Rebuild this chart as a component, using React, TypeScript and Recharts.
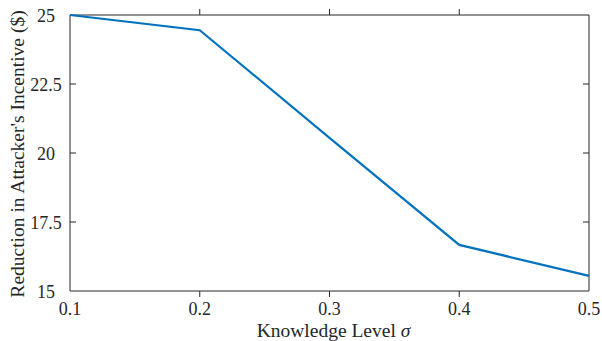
import React from "react";
import {
	Line,
	LineChart,
	XAxis,
	YAxis,
	Label,
	ReferenceArea,
	ReferenceLine,
} from "recharts";

// knowledge level sigma vs reduction in attacker's incentive
const sigma = [0.1, 0.2, 0.3, 0.4, 0.5];
const reduction = [25, 24.45, 20.55, 16.67, 15.55];
const xTicks = [0.1, 0.2, 0.3, 0.4, 0.5];
const yTicks = [15, 17.5, 20, 22.5, 25];

const data = sigma.map((s, i) => ({ s, v: reduction[i] }));

const FONT = "'Liberation Serif', 'Times New Roman', serif";
const AXIS = "#262626";
const TEXT = "#262626";
const TICK_LEN = 6;

const BottomTick = (p: any) => (
	<text
		x={p.x}
		y={p.y + 18}
		textAnchor="middle"
		dominantBaseline="central"
		fontFamily={FONT}
		fontSize={18}
		fill={TEXT}
	>
		{p.payload.value}
	</text>
);

const LeftTick = (p: any) => (
	<text
		x={p.x - 24}
		y={p.y + 1}
		textAnchor="middle"
		dominantBaseline="central"
		fontFamily={FONT}
		fontSize={18}
		fill={TEXT}
	>
		{p.payload.value}
	</text>
);

// inward tick marks at both ends of a reference line (matlab box style)
const VTicks = (p: any) => (
	<g>
		<line x1={p.x1} y1={p.y1} x2={p.x1} y2={p.y1 + TICK_LEN} stroke={AXIS} />
		<line x1={p.x2} y1={p.y2} x2={p.x2} y2={p.y2 - TICK_LEN} stroke={AXIS} />
	</g>
);

const HTicks = (p: any) => (
	<g>
		<line x1={p.x1} y1={p.y1} x2={p.x1 + TICK_LEN} y2={p.y1} stroke={AXIS} />
		<line x1={p.x2} y1={p.y2} x2={p.x2 - TICK_LEN} y2={p.y2} stroke={AXIS} />
	</g>
);

export default function App() {
	return (
		<div style={{ position: "absolute", left: 0, top: 0, background: "#fff" }}>
			<LineChart
				width={602}
				height={341}
				data={data}
				margin={{ top: 15, right: 13, bottom: 0, left: 0 }}
			>
				<XAxis
					dataKey="s"
					type="number"
					domain={[0.1, 0.5]}
					ticks={xTicks}
					height={50}
					tickSize={0}
					tickMargin={0}
					tick={BottomTick}
					tickLine={false}
					axisLine={false}
					interval={0}
				>
					<Label
						content={(props: any) => {
							const vb = props.viewBox;
							return (
								<text
									x={vb.x + vb.width / 2 + 4}
									y={vb.y + 46}
									textAnchor="middle"
									fontFamily={FONT}
									fontSize={19.5}
									fill={TEXT}
								>
									Knowledge Level <tspan fontStyle="italic">σ</tspan>
								</text>
							);
						}}
					/>
				</XAxis>
				<YAxis
					type="number"
					domain={[15, 25]}
					ticks={yTicks}
					width={70}
					tickSize={0}
					tickMargin={0}
					tick={LeftTick}
					tickLine={false}
					axisLine={false}
					interval={0}
				>
					<Label
						content={(props: any) => {
							const vb = props.viewBox;
							const cy = vb.y + vb.height / 2 + 1;
							return (
								<text
									x={17}
									y={cy}
									transform={`rotate(-90 17 ${cy})`}
									textAnchor="middle"
									dominantBaseline="central"
									fontFamily={FONT}
									fontSize={19.5}
									fill={TEXT}
								>
									Reduction in Attacker's Incentive ($)
								</text>
							);
						}}
					/>
				</YAxis>
				<ReferenceArea
					x1={0.1}
					x2={0.5}
					y1={15}
					y2={25}
					fill="none"
					stroke={AXIS}
					strokeWidth={1}
				/>
				{xTicks.slice(1, -1).map((t) => (
					<ReferenceLine key={`x${t}`} x={t} shape={VTicks} />
				))}
				{yTicks.slice(1, -1).map((t) => (
					<ReferenceLine key={`y${t}`} y={t} shape={HTicks} />
				))}
				<Line
					dataKey="v"
					type="linear"
					stroke="#0072BD"
					strokeWidth={2.2}
					dot={false}
					activeDot={false}
					isAnimationActive={false}
				/>
			</LineChart>
		</div>
	);
}
